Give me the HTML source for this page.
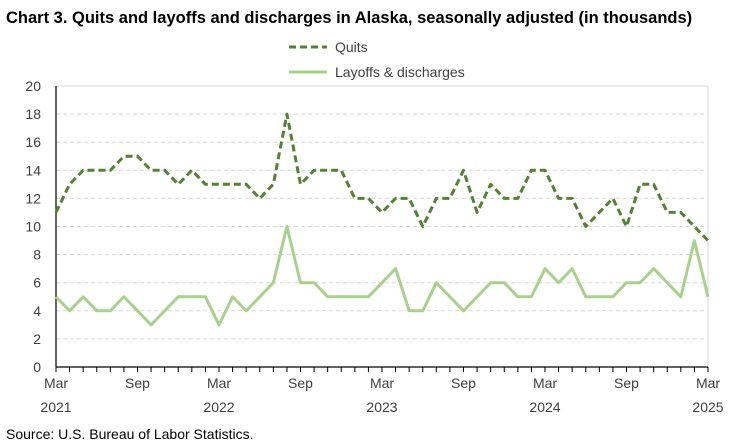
<!DOCTYPE html>
<html><head><meta charset="utf-8"><style>
body{margin:0;background:#fff;font-family:"Liberation Sans",Arial,sans-serif}
svg{display:block}
</style></head><body>
<svg width="750" height="446" xmlns="http://www.w3.org/2000/svg">
<text x="6" y="23" font-size="16.5" font-weight="bold" fill="#000">Chart 3. Quits and layoffs and discharges in Alaska, seasonally adjusted (in thousands)</text>
<g>
<line x1="289" y1="47" x2="327" y2="47" stroke="#548235" stroke-width="3" stroke-dasharray="7,4"/>
<text x="335" y="52" font-size="14" fill="#404040">Quits</text>
<line x1="289" y1="72" x2="327" y2="72" stroke="#a9d18e" stroke-width="3"/>
<text x="335" y="77" font-size="14" fill="#404040">Layoffs &amp; discharges</text>
</g>
<g id="grid"></g><g id="axes"></g><g id="series"></g>
<text x="6" y="439" font-size="14" fill="#000">Source: U.S. Bureau of Labor Statistics.</text>
</svg>
<script>
const quits=[11,13,14,14,14,15,15,14,14,13,14,13,13,13,13,12,13,18,13,14,14,14,12,12,11,12,12,10,12,12,14,11,13,12,12,14,14,12,12,10,11,12,10,13,13,11,11,10,9];
const layoffs=[5,4,5,4,4,5,4,3,4,5,5,5,3,5,4,5,6,10,6,6,5,5,5,5,6,7,4,4,6,5,4,5,6,6,5,5,7,6,7,5,5,5,6,6,7,6,5,9,5];
const yTicks=[0,2,4,6,8,10,12,14,16,18,20];
const xLabels=[[0,"Mar","2021"],[6,"Sep",""],[12,"Mar","2022"],[18,"Sep",""],[24,"Mar","2023"],[30,"Sep",""],[36,"Mar","2024"],[42,"Sep",""],[48,"Mar","2025"]];
const NS="http://www.w3.org/2000/svg";
const X0=56,X1=708,Y0=367,Y1=86;
const x=i=>X0+(X1-X0)*i/48;
const y=v=>Y0-(Y0-Y1)*v/20;
function mk(tag,attrs,parent){const e=document.createElementNS(NS,tag);for(const k in attrs)e.setAttribute(k,attrs[k]);parent.appendChild(e);return e;}
const grid=document.getElementById('grid'),axes=document.getElementById('axes'),series=document.getElementById('series');
yTicks.forEach(t=>{
  if(t>0){const g=mk('line',{x1:X0,x2:X1,y1:y(t),y2:y(t),stroke:'#d9d9d9','stroke-width':1,'stroke-dasharray':t===20?'':'4,3'},grid);
  
  }
  const l=mk('text',{x:41,y:y(t)+5,'font-size':14,'text-anchor':'end',fill:'#404040'},axes);
  l.textContent=t;
  
  
});
const rb=mk('line',{x1:X1,x2:X1,y1:Y1,y2:Y0,stroke:'#d9d9d9','stroke-width':1},grid);


const ya=mk('line',{x1:X0,x2:X0,y1:Y1,y2:Y0,stroke:'#000','stroke-width':1.2},axes);


const xa=mk('line',{x1:X0,x2:X1,y1:Y0,y2:Y0,stroke:'#000','stroke-width':1.2},axes);


for(let i=0;i<=48;i++){const tk=mk('line',{x1:x(i),x2:x(i),y1:Y0,y2:Y0+5,stroke:'#000','stroke-width':1},axes);

}
xLabels.forEach(([i,m,yr])=>{
  const t=mk('text',{x:x(i),y:388,'font-size':14,'text-anchor':'middle',fill:'#404040'},axes);
  t.textContent=m;
  
  
  if(yr){const t2=mk('text',{x:x(i),y:412,'font-size':14,'text-anchor':'middle',fill:'#404040'},axes);
  t2.textContent=yr;
  
  }
});
const pts=a=>a.map((v,i)=>x(i).toFixed(1)+','+y(v).toFixed(1)).join(' ');
const lp=mk('polyline',{points:pts(layoffs),fill:'none',stroke:'#a9d18e','stroke-width':3,'stroke-linejoin':'round'},series);


const qp=mk('polyline',{points:pts(quits),fill:'none',stroke:'#548235','stroke-width':3,'stroke-dasharray':'7,4','stroke-linejoin':'round'},series);


</script>
</body></html>
